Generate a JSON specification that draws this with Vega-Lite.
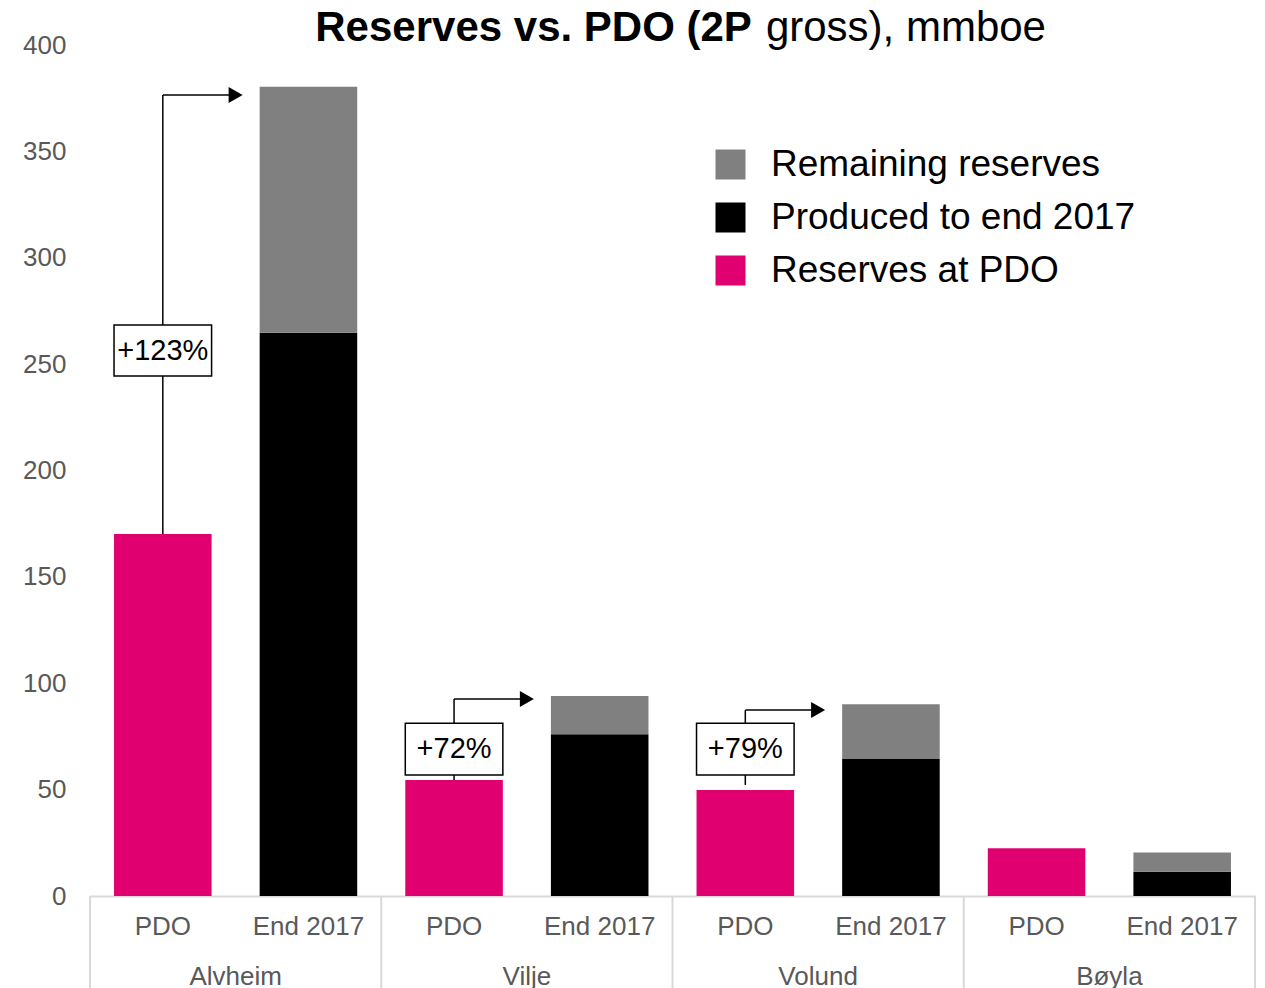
{
  "$schema": "https://vega.github.io/schema/vega-lite/v6.json",
  "width": 1165,
  "height": 851,
  "autosize": {"type": "none"},
  "padding": {"left": 90, "top": 45, "right": 10, "bottom": 92},
  "config": {"view": {"stroke": null}, "font": "Liberation Sans"},
  "datasets": {
    "bars": [
      {"group": "Alvheim", "slot": "Alvheim|PDO", "series": "Reserves at PDO", "ord": 1, "value": 170.2},
      {"group": "Alvheim", "slot": "Alvheim|End 2017", "series": "Produced to end 2017", "ord": 1, "value": 264.8},
      {"group": "Alvheim", "slot": "Alvheim|End 2017", "series": "Remaining reserves", "ord": 2, "value": 115.6},
      {"group": "Vilje", "slot": "Vilje|PDO", "series": "Reserves at PDO", "ord": 1, "value": 54.5},
      {"group": "Vilje", "slot": "Vilje|End 2017", "series": "Produced to end 2017", "ord": 1, "value": 76.0},
      {"group": "Vilje", "slot": "Vilje|End 2017", "series": "Remaining reserves", "ord": 2, "value": 18.0},
      {"group": "Volund", "slot": "Volund|PDO", "series": "Reserves at PDO", "ord": 1, "value": 49.8},
      {"group": "Volund", "slot": "Volund|End 2017", "series": "Produced to end 2017", "ord": 1, "value": 64.4},
      {"group": "Volund", "slot": "Volund|End 2017", "series": "Remaining reserves", "ord": 2, "value": 25.7},
      {"group": "Bøyla", "slot": "Bøyla|PDO", "series": "Reserves at PDO", "ord": 1, "value": 22.4},
      {"group": "Bøyla", "slot": "Bøyla|End 2017", "series": "Produced to end 2017", "ord": 1, "value": 11.4},
      {"group": "Bøyla", "slot": "Bøyla|End 2017", "series": "Remaining reserves", "ord": 2, "value": 9.0}
    ],
    "notes": [
      {"slot": "Alvheim|PDO", "endSlot": "Alvheim|End 2017", "lineFrom": 170.2, "level": 376.5, "boxTop": 268.4, "boxBottom": 244.4, "boxMid": 256.4, "label": "+123%"},
      {"slot": "Vilje|PDO", "endSlot": "Vilje|End 2017", "lineFrom": 54.5, "level": 92.6, "boxTop": 81.2, "boxBottom": 56.9, "boxMid": 69.0, "label": "+72%"},
      {"slot": "Volund|PDO", "endSlot": "Volund|End 2017", "lineFrom": 52.2, "level": 87.4, "boxTop": 81.2, "boxBottom": 56.9, "boxMid": 69.0, "label": "+79%"}
    ],
    "groups": [
      {"group": "Alvheim", "slot": "Alvheim|PDO", "endSlot": "Alvheim|End 2017"},
      {"group": "Vilje", "slot": "Vilje|PDO", "endSlot": "Vilje|End 2017"},
      {"group": "Volund", "slot": "Volund|PDO", "endSlot": "Volund|End 2017"},
      {"group": "Bøyla", "slot": "Bøyla|PDO", "endSlot": "Bøyla|End 2017"}
    ],
    "lastEdge": [
      {"slot": "Bøyla|End 2017"}
    ]
  },
  "layer": [
    {
      "data": {"name": "bars"},
      "mark": {"type": "bar", "width": {"band": 0.67}},
      "encoding": {
        "x": {
          "field": "slot", "type": "nominal",
          "scale": {"domain": ["Alvheim|PDO", "Alvheim|End 2017", "Vilje|PDO", "Vilje|End 2017", "Volund|PDO", "Volund|End 2017", "Bøyla|PDO", "Bøyla|End 2017"], "paddingInner": 0, "paddingOuter": 0},
          "axis": {"title": null, "labelExpr": "split(datum.value, '|')[1]", "labelAngle": 0, "ticks": false, "domainColor": "#d9d9d9", "domainWidth": 2, "labelFontSize": 26, "labelColor": "#595959", "labelPadding": 17, "labelFont": "Liberation Sans"}
        },
        "y": {
          "field": "value", "type": "quantitative", "stack": "zero",
          "scale": {"domain": [0, 400], "nice": false},
          "axis": {"title": null, "values": [0, 50, 100, 150, 200, 250, 300, 350, 400], "grid": false, "domain": false, "ticks": false, "labelFontSize": 26, "labelColor": "#595959", "labelPadding": 24, "labelFont": "Liberation Sans"}
        },
        "color": {
          "field": "series", "type": "nominal",
          "scale": {"domain": ["Remaining reserves", "Produced to end 2017", "Reserves at PDO"], "range": ["#808080", "#000000", "#E0006F"]},
          "legend": {"orient": "none", "legendX": 622, "legendY": 101, "title": null, "symbolType": "square", "symbolSize": 900, "symbolStrokeWidth": 0, "labelFontSize": 37, "labelColor": "#000000", "labelFont": "Liberation Sans", "labelOffset": 22, "rowPadding": 15, "labelLimit": 0}
        },
        "order": {"field": "ord", "type": "quantitative"}
      }
    },
    {
      "data": {"name": "groups"},
      "mark": {"type": "rule", "color": "#d9d9d9", "strokeWidth": 2},
      "encoding": {
        "x": {"field": "slot", "type": "nominal", "bandPosition": 0},
        "y": {"datum": 0, "type": "quantitative"},
        "y2": {"datum": -60}
      }
    },
    {
      "data": {"name": "lastEdge"},
      "mark": {"type": "rule", "color": "#d9d9d9", "strokeWidth": 2},
      "encoding": {
        "x": {"field": "slot", "type": "nominal", "bandPosition": 1},
        "y": {"datum": 0, "type": "quantitative"},
        "y2": {"datum": -60}
      }
    },
    {
      "data": {"name": "groups"},
      "mark": {"type": "text", "fontSize": 26, "color": "#595959", "baseline": "middle", "align": "center", "font": "Liberation Sans"},
      "encoding": {
        "x": {"field": "endSlot", "type": "nominal", "bandPosition": 0},
        "y": {"datum": -38, "type": "quantitative"},
        "text": {"field": "group"}
      }
    },
    {
      "data": {"name": "notes"},
      "mark": {"type": "rule", "color": "#000000", "strokeWidth": 1.5},
      "encoding": {
        "x": {"field": "slot", "type": "nominal"},
        "y": {"field": "lineFrom", "type": "quantitative"},
        "y2": {"field": "level"}
      }
    },
    {
      "data": {"name": "notes"},
      "mark": {"type": "rule", "color": "#000000", "strokeWidth": 1.5},
      "encoding": {
        "x": {"field": "slot", "type": "nominal"},
        "x2": {"field": "endSlot", "bandPosition": 0},
        "y": {"field": "level", "type": "quantitative"}
      }
    },
    {
      "data": {"name": "notes"},
      "mark": {"type": "point", "shape": "triangle-right", "filled": true, "size": 260, "color": "#000000", "opacity": 1},
      "encoding": {
        "x": {"field": "endSlot", "type": "nominal", "bandPosition": 0},
        "y": {"field": "level", "type": "quantitative"}
      }
    },
    {
      "data": {"name": "notes"},
      "mark": {"type": "bar", "width": {"band": 0.67}, "fill": "#ffffff", "stroke": "#000000", "strokeWidth": 1.5},
      "encoding": {
        "x": {"field": "slot", "type": "nominal"},
        "y": {"field": "boxBottom", "type": "quantitative"},
        "y2": {"field": "boxTop"}
      }
    },
    {
      "data": {"name": "notes"},
      "mark": {"type": "text", "fontSize": 29, "color": "#000000", "baseline": "middle", "align": "center", "font": "Liberation Sans"},
      "encoding": {
        "x": {"field": "slot", "type": "nominal"},
        "y": {"field": "boxMid", "type": "quantitative"},
        "text": {"field": "label"}
      }
    },
    {
      "data": {"values": [{"t": "Reserves vs. PDO (2P"}]},
      "mark": {"type": "text", "fontSize": 42, "fontWeight": "bold", "color": "#000000", "baseline": "middle", "align": "right", "dx": 225, "font": "Liberation Sans"},
      "encoding": {
        "x": {"datum": "Vilje|End 2017", "type": "nominal", "bandPosition": 0},
        "y": {"datum": 408, "type": "quantitative"},
        "text": {"field": "t"}
      }
    },
    {
      "data": {"values": [{"t": "gross), mmboe"}]},
      "mark": {"type": "text", "fontSize": 42, "fontWeight": "normal", "color": "#000000", "baseline": "middle", "align": "left", "dx": 239, "font": "Liberation Sans"},
      "encoding": {
        "x": {"datum": "Vilje|End 2017", "type": "nominal", "bandPosition": 0},
        "y": {"datum": 408, "type": "quantitative"},
        "text": {"field": "t"}
      }
    }
  ]
}
